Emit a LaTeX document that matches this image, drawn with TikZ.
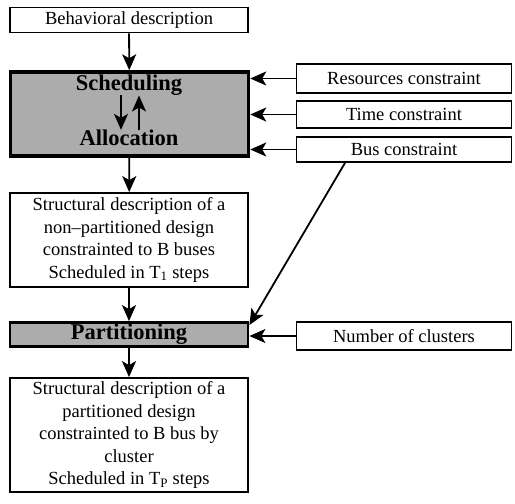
\documentclass[tikz,border=0pt]{standalone}
\usepackage{fontspec}
\setmainfont{Liberation Serif}
\usetikzlibrary{arrows.meta}

\begin{document}
\begin{tikzpicture}[x=1pt,y=-1pt,
    plainbox/.style={draw,line width=1.8pt,minimum width=238pt,inner sep=1pt,align=center,
      font=\fontsize{18.5}{22.5}\selectfont},
    sidebox/.style={draw,line width=1.8pt,minimum width=215pt,inner sep=1pt,
      font=\fontsize{18.5}{22.5}\selectfont},
    procbox/.style={draw,fill=gray!65,minimum width=238pt},
    proclabel/.style={inner sep=0pt,font=\fontsize{22.5}{24}\selectfont\bfseries},
    flow/.style={line width=1.8pt,-{Stealth[length=16pt,width=14pt,inset=4pt]}}]
    \useasboundingbox (0,0) rectangle (515,504);
    \node[plainbox,minimum height=25pt] (behav) at (129,20) {Behavioral description};
    \node[procbox,line width=3.5pt,minimum height=84pt] (sched) at (129.5,114) {};
    \node[proclabel] (schedtxt) at (129,85) {Scheduling};
    \node[proclabel] (alloc) at (129,138) {Allocation};
    \node[plainbox,minimum height=94pt] (struct) at (129,240)
      {Structural description of a\\ non--partitioned design\\ constrainted to B buses\\ Scheduled in T\textsubscript{1} steps};
    \node[procbox,line width=2.8pt,minimum height=24pt] (part) at (129,334.5) {};
    \node[proclabel] (parttxt) at (129,334.5) {Partitioning};
    \node[plainbox,minimum height=114pt] (partstruct) at (129,435)
      {Structural description of a\\ partitioned design\\ constrainted to B bus by\\ cluster\\ Scheduled in T\textsubscript{P} steps};

    \node[sidebox,minimum height=29pt] (res) at (404,78.5) {Resources constraint};
    \node[sidebox,minimum height=27pt] (time) at (404,114.5) {Time constraint};
    \node[sidebox,minimum height=25pt] (bus) at (404,149.5) {Bus constraint};
    \node[sidebox,minimum height=28pt] (clus) at (404,336) {Number of clusters};

    \draw[flow] (behav) -- (sched);
    \draw[flow] ([xshift=-8pt]schedtxt.south) -- ([xshift=-8pt]alloc.north);
    \draw[flow] ([xshift=10pt]alloc.north) -- ([xshift=10pt]schedtxt.south);
    \draw[flow] (sched) -- (struct);
    \draw[flow] (struct) -- (part);
    \draw[flow] (part) -- (partstruct);
    \draw[flow] (res) -- (sched.east |- res);
    \draw[flow] (time) -- (sched.east |- time);
    \draw[flow] (bus) -- (sched.east |- bus);
    \draw[flow] ([xshift=-59pt]bus.south) -- ([yshift=-4pt]part.north east);
    \draw[flow] (clus) -- (part.east |- clus);
  \end{tikzpicture}
\end{document}
